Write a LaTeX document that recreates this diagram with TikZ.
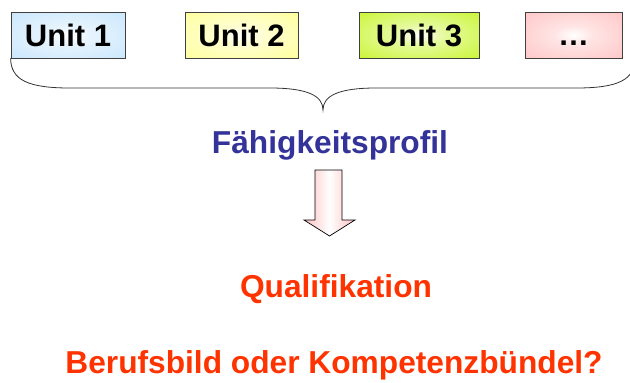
\documentclass[tikz,border=0pt]{standalone}
\usepackage{fontspec}
\setmainfont{Liberation Sans}
\definecolor{cUa}{HTML}{C8E6FC}
\definecolor{cUb}{HTML}{FFFF99}
\definecolor{cUc}{HTML}{C8F52D}
\definecolor{cUd}{HTML}{FFC4C4}
\definecolor{cBorder}{HTML}{404040}
\definecolor{cBlue}{HTML}{333399}
\definecolor{cRed}{HTML}{FF3300}
\definecolor{cArrEdge}{HTML}{F05A5A}
\definecolor{cArrMid}{HTML}{FFB8B8}
\pgfdeclareradialshading{shUa}{\pgfpoint{0bp}{0bp}}{color(0bp)=(white); color(10bp)=(white!55!cUa); color(38bp)=(cUa); color(50bp)=(cUa)}
\pgfdeclareradialshading{shUb}{\pgfpoint{0bp}{0bp}}{color(0bp)=(white); color(10bp)=(white!55!cUb); color(38bp)=(cUb); color(50bp)=(cUb)}
\pgfdeclareradialshading{shUc}{\pgfpoint{0bp}{0bp}}{color(0bp)=(white); color(10bp)=(white!55!cUc); color(38bp)=(cUc); color(50bp)=(cUc)}
\pgfdeclareradialshading{shUd}{\pgfpoint{0bp}{0bp}}{color(0bp)=(white); color(10bp)=(white!55!cUd); color(38bp)=(cUd); color(50bp)=(cUd)}
\pgfdeclarehorizontalshading{arrsh}{100bp}{color(0bp)=(cArrEdge); color(22bp)=(cArrMid); color(50bp)=(white); color(78bp)=(cArrMid); color(100bp)=(cArrEdge)}
\begin{document}
\begin{tikzpicture}[x=1pt,y=-1pt,
  unitbox/.style={draw=cBorder, line width=0.8pt, minimum height=46pt, inner sep=0pt,
    font=\bfseries\fontsize{31}{36}\selectfont, text=black},
  bigtext/.style={font=\bfseries\fontsize{31.7}{38}\selectfont, anchor=base, inner sep=0pt}]
\useasboundingbox (0,0) rectangle (630,383);
\node[unitbox, shading=shUa, minimum width=114pt] (u1) at (68,35) {Unit 1};
\node[unitbox, shading=shUb, minimum width=113pt] (u2) at (241.5,35) {Unit 2};
\node[unitbox, shading=shUc, minimum width=120pt] (u3) at (419,35) {Unit 3};
\node[unitbox, shading=shUd, minimum width=97pt] (u4) at (573.5,35) {\vphantom{U}…};
\begin{scope}
\clip (0,0) rectangle (630,383);
\draw[line width=0.8pt, black!80] (u1.south west) .. controls (11,80) and (28,88) .. (70,88) -- (270,88)
  .. controls (308,88) and (323,96) .. (323,110)
  .. controls (323,96) and (338,88) .. (376,88) -- (576,88)
  .. controls (618,88) and (635,80) .. (635,58);
\end{scope}
\node[bigtext, text=cBlue] (fp) at (330,153) {Fähigkeitsprofil};
\draw[line width=0.7pt, black, shading=arrsh]
  (315,170) -- (342,170) -- (342,220) -- (355,220) -- (329.5,236) -- (304,220) -- (315,220) -- cycle;
\node[bigtext, text=cRed] (q) at (336,297) {Qualifikation};
\node[bigtext, text=cRed] (b) at (334,373) {Berufsbild oder Kompetenzbündel?};
\end{tikzpicture}
\end{document}
